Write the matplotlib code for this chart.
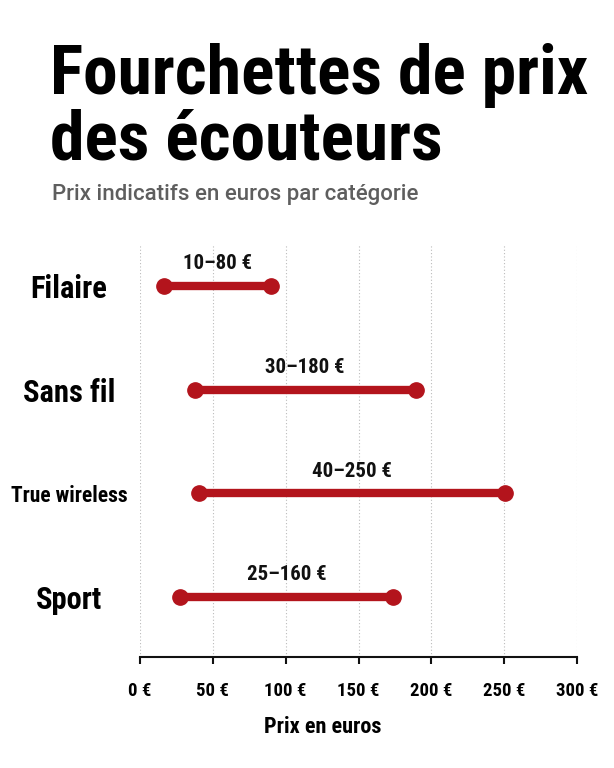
import matplotlib
matplotlib.use("Agg")
import matplotlib.pyplot as plt

# Data
categories = ["Filaire", "Sans fil", "True wireless", "Sport"]
low_values = [16.8, 37.5, 40.4, 27.5]
high_values = [89.9, 189.3, 250.6, 174.0]
range_labels = ["10–80 €", "30–180 €", "40–250 €", "25–160 €"]
tick_values = [0, 50, 100, 150, 200, 250, 300]
tick_labels = [f"{v} €" for v in tick_values]

red = "#b3141c"
cond = "Roboto Condensed"

W, H = 614, 768
fig = plt.figure(figsize=(W / 100, H / 100), dpi=100)
fig.patch.set_facecolor("white")

# Title block
fig.text(50 / W, 1 - 94 / H, "Fourchettes de prix", family=cond,
         weight="bold", fontsize=50, va="baseline", ha="left")
fig.text(50 / W, 1 - 160 / H, "des écouteurs", family=cond,
         weight="bold", fontsize=50, va="baseline", ha="left")
fig.text(52 / W, 1 - 200 / H, "Prix indicatifs en euros par catégorie",
         family="Roboto", weight=500, fontsize=16, color="#5e5e5e",
         va="baseline", ha="left")

ax = fig.add_axes([140 / W, 111 / H, 437 / W, 412 / H])
ypos = list(range(len(categories)))

for y, lo, hi, lab in zip(ypos, low_values, high_values, range_labels):
    ax.plot([lo, hi], [y, y], color=red, lw=6, solid_capstyle="round",
            marker="o", markersize=11, zorder=3)
    ax.annotate(lab, xy=((lo + hi) / 2, y), xytext=(0, 16),
                textcoords="offset points", ha="center", va="center",
                family=cond, weight="bold", fontsize=15, color="#111111")

ax.set_xlim(0, 300)
ax.set_ylim(3.576, -0.393)

ax.set_xticks(tick_values)
ax.set_xticklabels(tick_labels, family=cond, weight="bold", fontsize=13.5)
ax.tick_params(axis="x", length=5, width=1.5, pad=13, color="#111111")

ax.set_yticks(ypos)
ax.set_yticklabels(categories, family=cond, weight="bold")
label_sizes = [22, 22, 15.5, 22]
for t, s in zip(ax.get_yticklabels(), label_sizes):
    t.set_fontsize(s)
    t.set_ha("center")
ax.tick_params(axis="y", length=0, pad=51)

ax.grid(axis="x", color="#bbbbbb", linestyle=(0, (1, 2)), lw=0.8, zorder=0)
for side in ["top", "right", "left"]:
    ax.spines[side].set_visible(False)
ax.spines["bottom"].set_linewidth(1.5)
ax.spines["bottom"].set_color("#111111")

fig.text(323 / W, 1 - 727 / H, "Prix en euros", family=cond, weight="bold",
         fontsize=16, ha="center", va="center")

fig.savefig("out.png", dpi=100)
